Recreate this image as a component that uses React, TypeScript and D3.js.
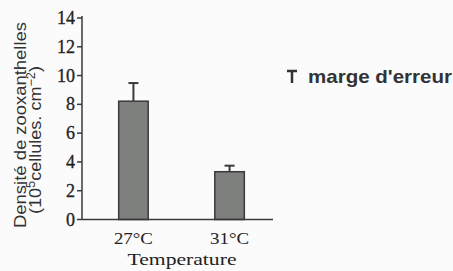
import React from "react";
import * as d3 from "d3";

const categories = ["27°C", "31°C"];
const values = [8.22, 3.32];
const errors = [1.26, 0.42];
const yTicks = [0, 2, 4, 6, 8, 10, 12, 14];
const yTitle1 = "Densité de zooxanthelles";
const xTitle = "Temperature";
const legendLabel = "marge d'erreur";

export default function App() {
  const W = 453, H = 271;
  const y = d3.scaleLinear().domain([0, 14]).range([219.5, 18]);
  const x = d3.scaleBand<string>().domain(categories).range([86, 277]).paddingInner(0.693).paddingOuter(0.34);
  const axisX = 82;
  const sans = "'Liberation Sans', Arial, sans-serif";
  const serif = "'Liberation Serif', 'Times New Roman', serif";
  const barFill = "#7d807d";
  const ink = "#3a3a3a";
  return (
    <div style={{ position: "fixed", left: 0, top: 0 }}>
      <svg width={W} height={H} style={{ display: "block", background: "#fbfbfb" }}>
        {categories.map((c, i) => {
          const x0 = x(c)!;
          const bw = x.bandwidth();
          const cx = x0 + bw / 2;
          return (
            <g key={c}>
              <line x1={cx} x2={cx} y1={y(values[i])} y2={y(values[i] + errors[i])} stroke={ink} strokeWidth={2} />
              <line x1={cx - 5} x2={cx + 5} y1={y(values[i] + errors[i])} y2={y(values[i] + errors[i])} stroke={ink} strokeWidth={2} />
              <rect x={x0} y={y(values[i])} width={bw} height={y(0) - y(values[i])} fill={barFill} stroke={ink} strokeWidth={1.5} />
              <text x={cx} y={243.5} textAnchor="middle" fontFamily={serif} fontSize={17} fill="#222" textLength={39} lengthAdjust="spacingAndGlyphs">{c}</text>
            </g>
          );
        })}
        <line x1={axisX} x2={axisX} y1={16} y2={y(0)} stroke={ink} strokeWidth={1.5} />
        <line x1={axisX} x2={273} y1={y(0)} y2={y(0)} stroke={ink} strokeWidth={1.5} />
        {yTicks.map((t) => (
          <g key={t}>
            <line x1={axisX - 5} x2={axisX} y1={y(t)} y2={y(t)} stroke={ink} strokeWidth={1.5} />
            <text x={75} y={y(t) + 6} textAnchor="end" fontFamily={serif} fontSize={18} fill="#222" stroke="#222" strokeWidth={0.3} textLength={t >= 10 ? 18 : 9} lengthAdjust="spacingAndGlyphs">{t}</text>
          </g>
        ))}
        <text transform="translate(26,125) rotate(-90)" textAnchor="middle" fontFamily={sans} fontSize={17} fill="#333" textLength={206} lengthAdjust="spacingAndGlyphs">{yTitle1}</text>
        <text transform="translate(41,140) rotate(-90)" textAnchor="middle" fontFamily={sans} fontSize={17} fill="#333" textLength={148} lengthAdjust="spacingAndGlyphs">
          (10<tspan dy={-6} fontSize={12}>5</tspan><tspan dy={6}>cellules. cm</tspan><tspan dy={-6} fontSize={12}>−2</tspan><tspan dy={6}>)</tspan>
        </text>
        <text x={182} y={265} textAnchor="middle" fontFamily={serif} fontSize={17} fill="#222" textLength={109} lengthAdjust="spacingAndGlyphs">{xTitle}</text>
        <line x1={287} x2={297} y1={71} y2={71} stroke="#333" strokeWidth={2.5} />
        <line x1={292} x2={292} y1={71} y2={83} stroke="#333" strokeWidth={2.5} />
        <text x={308} y={83} fontFamily={sans} fontWeight="bold" fontSize={19} fill="#333" textLength={144} lengthAdjust="spacingAndGlyphs">{legendLabel}</text>
      </svg>
    </div>
  );
}
